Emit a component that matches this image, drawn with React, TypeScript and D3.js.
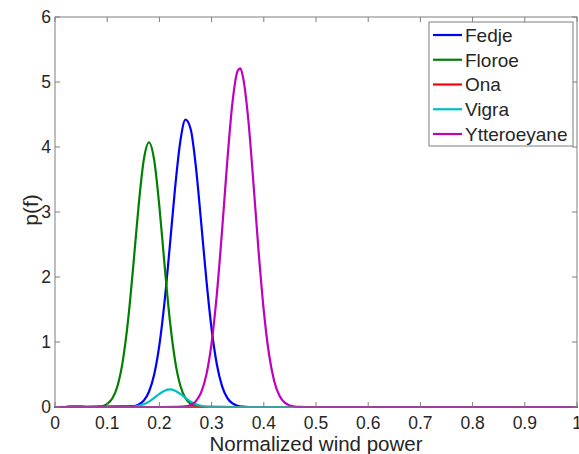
import React from 'react';
import * as d3 from 'd3';

const W = 579;
const H = 454;
const plot = { left: 55, right: 577, top: 17, bottom: 407 };

// Axis ticks
const xTicks = [0, 0.1, 0.2, 0.3, 0.4, 0.5, 0.6, 0.7, 0.8, 0.9, 1];
const xTickLabels = ['0', '0.1', '0.2', '0.3', '0.4', '0.5', '0.6', '0.7', '0.8', '0.9', '1'];
const yTicks = [0, 1, 2, 3, 4, 5, 6];
const yTickLabels = ['0', '1', '2', '3', '4', '5', '6'];

// Estimated densities p(f) per station
const fedjeX = [0, 0.15, 0.16, 0.17, 0.18, 0.19, 0.2, 0.21, 0.22, 0.23, 0.24, 0.25, 0.26, 0.27, 0.28, 0.29, 0.3, 0.31, 0.32, 0.33, 0.34, 0.35, 0.36, 0.37, 1];
const fedjeY = [0, 0.012, 0.037, 0.098, 0.235, 0.501, 0.957, 1.63, 2.48, 3.367, 4.083, 4.42, 4.272, 3.687, 2.84, 1.955, 1.2, 0.658, 0.322, 0.141, 0.055, 0.019, 0.006, 0, 0];

const floroeX = [0, 0.02, 0.03, 0.05, 0.06, 0.09, 0.1, 0.11, 0.12, 0.13, 0.14, 0.15, 0.16, 0.17, 0.18, 0.19, 0.2, 0.21, 0.22, 0.23, 0.24, 0.25, 0.26, 0.27, 0.28, 0.29, 1];
const floroeY = [0, 0, 0.01, 0.01, 0, 0.012, 0.047, 0.134, 0.332, 0.714, 1.336, 2.174, 3.081, 3.797, 4.07, 3.797, 3.081, 2.174, 1.336, 0.714, 0.332, 0.134, 0.047, 0.014, 0.004, 0, 0];

const onaX = [0, 0.2, 0.27, 0.28, 0.35, 1];
const onaY = [0, 0, 0.002, 0.002, 0, 0];

const vigraX = [0, 0.13, 0.14, 0.15, 0.16, 0.17, 0.18, 0.19, 0.2, 0.21, 0.22, 0.23, 0.24, 0.25, 0.26, 0.27, 0.28, 0.29, 0.3, 0.31, 1];
const vigraY = [0, 0, 0.002, 0.007, 0.019, 0.042, 0.083, 0.139, 0.201, 0.251, 0.27, 0.251, 0.201, 0.139, 0.083, 0.042, 0.019, 0.007, 0.002, 0, 0];

const ytterX = [0, 0.23, 0.24, 0.25, 0.26, 0.27, 0.28, 0.29, 0.3, 0.31, 0.32, 0.33, 0.34, 0.35, 0.355, 0.36, 0.37, 0.38, 0.39, 0.4, 0.41, 0.42, 0.43, 0.44, 0.45, 0.46, 0.47, 0.48, 1];
const ytterY = [0, 0, 0.003, 0.01, 0.032, 0.09, 0.224, 0.498, 0.984, 1.731, 2.71, 3.777, 4.685, 5.173, 5.21, 5.083, 4.446, 3.461, 2.398, 1.479, 0.812, 0.397, 0.172, 0.067, 0.023, 0.007, 0.002, 0, 0];

const seriesNames = ['Fedje', 'Floroe', 'Ona', 'Vigra', 'Ytteroeyane'];
const seriesColors = ['#0000ff', '#008000', '#ff0000', '#00bfbf', '#bf00bf'];
const seriesXs = [fedjeX, floroeX, onaX, vigraX, ytterX];
const seriesYs = [fedjeY, floroeY, onaY, vigraY, ytterY];

const FONT = '"Liberation Sans", Arial, Helvetica, sans-serif';
const AXIS_COLOR = '#7f7f7f';
const TEXT_COLOR = '#262626';

export default function App() {
  const x = d3.scaleLinear().domain([0, 1]).range([plot.left, plot.right]);
  const y = d3.scaleLinear().domain([0, 6]).range([plot.bottom, plot.top]);

  const line = d3
    .line<[number, number]>()
    .x((d) => x(d[0]))
    .y((d) => y(d[1]))
    .curve(d3.curveMonotoneX);

  const tickLen = 5;
  const legend = { x: 429, y: 22, w: 144, h: 124, rowY0: 35, rowStep: 24.75 };

  return (
    <svg
      width={W}
      height={H}
      style={{ position: 'absolute', left: 0, top: 0, background: '#fff' }}
      fontFamily={FONT}
    >
      <rect x={0} y={0} width={W} height={H} fill="#fff" />

      {/* series */}
      <g fill="none" strokeWidth={2.2} strokeLinejoin="round" strokeLinecap="round">
        {seriesNames.map((name, i) => {
          const pts = seriesXs[i].map((v, j) => [v, seriesYs[i][j]] as [number, number]);
          return <path key={name} d={line(pts) || ''} stroke={seriesColors[i]} />;
        })}
      </g>

      {/* frame */}
      <rect
        x={plot.left}
        y={plot.top}
        width={plot.right - plot.left}
        height={plot.bottom - plot.top}
        fill="none"
        stroke={AXIS_COLOR}
        strokeWidth={1}
      />

      {/* ticks on all four sides, pointing inward */}
      <g stroke={AXIS_COLOR} strokeWidth={1}>
        {xTicks.map((t) => (
          <g key={'xt' + t}>
            <line x1={x(t)} x2={x(t)} y1={plot.bottom} y2={plot.bottom - tickLen} />
            <line x1={x(t)} x2={x(t)} y1={plot.top} y2={plot.top + tickLen} />
          </g>
        ))}
        {yTicks.map((t) => (
          <g key={'yt' + t}>
            <line x1={plot.left} x2={plot.left + tickLen} y1={y(t)} y2={y(t)} />
            <line x1={plot.right} x2={plot.right - tickLen} y1={y(t)} y2={y(t)} />
          </g>
        ))}
      </g>

      {/* tick labels */}
      <g fill={TEXT_COLOR} fontSize={17.5}>
        {xTicks.map((t, i) => (
          <text key={'xl' + t} x={x(t)} y={429} textAnchor="middle">
            {xTickLabels[i]}
          </text>
        ))}
        {yTicks.map((t, i) => (
          <text key={'yl' + t} x={plot.left - 4} y={y(t) + 6.3} textAnchor="end">
            {yTickLabels[i]}
          </text>
        ))}
      </g>

      {/* axis titles */}
      <text x={316} y={451} textAnchor="middle" fontSize={20.5} fill={TEXT_COLOR}>
        Normalized wind power
      </text>
      <text
        transform={`translate(38, 210) rotate(-90)`}
        textAnchor="middle"
        fontSize={21}
        fill={TEXT_COLOR}
      >
        p(f)
      </text>

      {/* legend */}
      <g>
        <rect
          x={legend.x}
          y={legend.y}
          width={legend.w}
          height={legend.h}
          fill="#fff"
          stroke={AXIS_COLOR}
          strokeWidth={1}
        />
        {seriesNames.map((name, i) => {
          const ry = legend.rowY0 + i * legend.rowStep;
          return (
            <g key={'lg' + name}>
              <line x1={433} x2={462} y1={ry} y2={ry} stroke={seriesColors[i]} strokeWidth={2.2} />
              <text x={465} y={ry + 6.8} fontSize={19} fill={TEXT_COLOR}>
                {name}
              </text>
            </g>
          );
        })}
      </g>
    </svg>
  );
}
